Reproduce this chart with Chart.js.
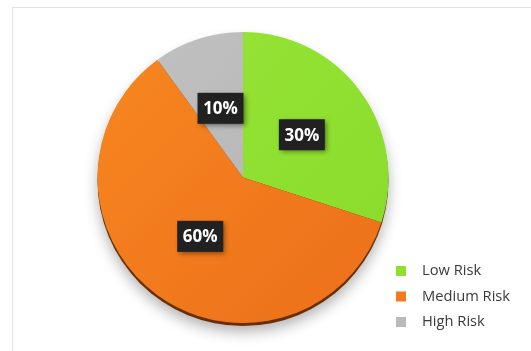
<!DOCTYPE html>
<html><head><meta charset="utf-8">
<script src="https://cdn.jsdelivr.net/npm/chart.js@4"></script>
<style>
html,body{margin:0;padding:0;background:#fff;}
#wrap{position:relative;width:531px;height:351px;overflow:hidden;}
#frame{position:absolute;left:12px;top:7px;width:600px;height:400px;border:1px solid #e2e2e2;box-sizing:border-box;}
canvas{position:absolute;left:0;top:0;}
</style></head><body>
<div id="wrap"><div id="frame"></div><canvas id="c" width="531" height="351"></canvas></div>
<script>
const categories = ["Low Risk", "Medium Risk", "High Risk"];
const values = [30, 60, 10];
const valueLabels = ["30%", "60%", "10%"];
const colors = ["#90e030", "#f37a1f", "#bababa"];

const shadowPlugin = {
  id: 'shadow',
  beforeDatasetsDraw(chart) {
    const meta = chart.getDatasetMeta(0);
    const a = meta.data[0];
    if (!a) return;
    const ctx = chart.ctx;
    ctx.save();
    ctx.shadowColor = 'rgba(0,0,0,0.3)';
    ctx.shadowBlur = 14;
    ctx.shadowOffsetY = 6;
    ctx.fillStyle = '#6a2e05';
    ctx.beginPath();
    ctx.arc(a.x, a.y + 3, a.outerRadius, 0, Math.PI * 2);
    ctx.fill();
    ctx.restore();
  }
};

const labelPlugin = {
  id: 'boxLabels',
  afterDatasetsDraw(chart) {
    const ctx = chart.ctx;
    const meta = chart.getDatasetMeta(0);
    ctx.save();
    ctx.font = 'bold 17px "Open Sans", sans-serif';
    ctx.textAlign = 'center';
    ctx.textBaseline = 'middle';
    meta.data.forEach((arc, i) => {
      const r = arc.outerRadius * 0.5;
      const ang = (arc.startAngle + arc.endAngle) / 2;
      const x = arc.x + Math.cos(ang) * r;
      const y = arc.y + Math.sin(ang) * r;
      const w = 46, h = 31;
      ctx.shadowColor = 'rgba(0,0,0,0.45)';
      ctx.shadowBlur = 5;
      ctx.shadowOffsetX = 2;
      ctx.shadowOffsetY = 2;
      ctx.fillStyle = '#212121';
      ctx.fillRect(x - w / 2, y - h / 2, w, h);
      ctx.shadowColor = 'transparent';
      ctx.fillStyle = '#ffffff';
      ctx.fillText(valueLabels[i], x, y + 1);
    });
    ctx.restore();
  }
};

const legendPlugin = {
  id: 'customLegend',
  afterDraw(chart) {
    const ctx = chart.ctx;
    const ca = chart.chartArea;
    ctx.save();
    ctx.font = '14.7px "Open Sans", sans-serif';
    ctx.textBaseline = 'middle';
    const x0 = ca.right + 7, y0 = ca.bottom - 52, step = 25.5;
    categories.forEach((c, i) => {
      const y = y0 + i * step;
      ctx.fillStyle = colors[i];
      ctx.fillRect(x0, y - 5, 10, 10);
      ctx.fillStyle = '#3a3a3a';
      ctx.fillText(c, x0 + 26, y);
    });
    ctx.restore();
  }
};

new Chart(document.getElementById('c'), {
  type: 'pie',
  data: {
    labels: categories,
    datasets: [{
      data: values,
      backgroundColor: (ctx) => {
        const chart = ctx.chart;
        const ca = chart.chartArea;
        if (!ca) return colors[ctx.dataIndex];
        const g = chart.ctx.createLinearGradient(ca.left, ca.top, ca.right, ca.bottom);
        if (ctx.dataIndex === 0) { g.addColorStop(0, '#98e637'); g.addColorStop(1, '#88da2a'); }
        else if (ctx.dataIndex === 1) { g.addColorStop(0, '#f7871f'); g.addColorStop(1, '#ec6f1b'); }
        else { g.addColorStop(0, '#c2c2c2'); g.addColorStop(1, '#b0b0b0'); }
        return g;
      },
      borderWidth: 0,
      hoverOffset: 0
    }]
  },
  options: {
    responsive: false,
    animation: false,
    layout: { padding: { left: 97, right: 142, top: 32, bottom: 28 } },
    plugins: { legend: { display: false }, tooltip: { enabled: false } }
  },
  plugins: [shadowPlugin, labelPlugin, legendPlugin]
});
</script>
</body></html>
